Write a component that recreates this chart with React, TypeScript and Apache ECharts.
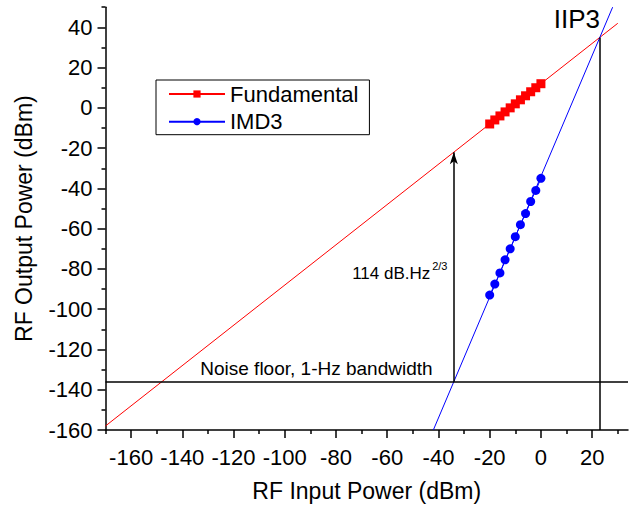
import React, { useEffect, useRef } from "react";
import * as echarts from "echarts";

// Measured points
const fundamentalX = [-20, -18, -16, -14, -12, -10, -8, -6, -4, -2, 0];
const fundamentalY = [-8, -6, -4, -2, 0, 2, 4, 6, 8, 10, 12];
const imd3X = [-20, -18, -16, -14, -12, -10, -8, -6, -4, -2, 0];
const imd3Y = [-93, -87.5, -82, -75.5, -70, -64, -58, -52.5, -46.5, -41, -35];

// Fitted lines (end points)
const fundamentalFitX = [-170, 30];
const fundamentalFitY = [-158, 42];
const imd3FitX = [-42, 28];
const imd3FitY = [-160, 50];

// Reference levels
const noiseFloor = -136;
const iip3 = [23, 35];
const sfdrX = -34;
const sfdrTop = -22;

// Axes
const xMin = -170;
const xMax = 34;
const yMin = -160;
const yMax = 50;
const xMajorTicks = [-160, -140, -120, -100, -80, -60, -40, -20, 0, 20];
const xMinorTicks = [-170, -150, -130, -110, -90, -70, -50, -30, -10, 10, 30];
const yMajorTicks = [-160, -140, -120, -100, -80, -60, -40, -20, 0, 20, 40];
const yMinorTicks = [-150, -130, -110, -90, -70, -50, -30, -10, 10, 30, 50];

const FONT = "Liberation Sans, Arial, sans-serif";

export default function App() {
  const ref = useRef<HTMLDivElement>(null);
  useEffect(() => {
    if (!ref.current) return;
    const chart = echarts.init(ref.current, null, { renderer: "svg" });
    const pairs = (xs: number[], ys: number[]) => xs.map((x, i) => [x, ys[i]]);
    const axisLine = { show: true, onZero: false, lineStyle: { color: "#000", width: 1.5 } };
    const hiddenLine = { show: false, onZero: false };
    chart.setOption({
      animation: false,
      backgroundColor: "#fff",
      grid: { left: 105.5, right: 4, top: 7.2, bottom: 78 },
      legend: {
        data: [{ name: "Fundamental" }, { name: "IMD3" }],
        orient: "vertical",
        left: 156,
        top: 80,
        padding: [3, 11, 2, 12],
        itemWidth: 56,
        itemHeight: 9,
        itemGap: 5.7,
        borderColor: "#000",
        borderWidth: 1,
        backgroundColor: "#fff",
        selectedMode: false,
        textStyle: { fontSize: 22, color: "#000", fontFamily: FONT },
      },
      xAxis: [
        {
          type: "value",
          position: "bottom",
          min: xMin,
          max: xMax,
          name: "RF Input Power (dBm)",
          nameLocation: "middle",
          nameGap: 49,
          nameTextStyle: { fontSize: 23, color: "#000", fontFamily: FONT },
          axisLine,
          axisTick: { show: true, length: 8, customValues: xMajorTicks, lineStyle: { color: "#000", width: 1.5 } },
          axisLabel: { customValues: xMajorTicks, fontSize: 22, color: "#000", fontFamily: FONT, margin: 16 },
          splitLine: { show: false },
        },
        {
          type: "value",
          position: "bottom",
          min: xMin,
          max: xMax,
          axisLine: hiddenLine,
          axisTick: { show: true, length: 4, customValues: xMinorTicks, lineStyle: { color: "#000", width: 1.5 } },
          axisLabel: { show: false },
          splitLine: { show: false },
        },
      ],
      yAxis: [
        {
          type: "value",
          position: "left",
          min: yMin,
          max: yMax,
          name: "RF Output Power (dBm)",
          nameLocation: "middle",
          nameGap: 70,
          nameTextStyle: { fontSize: 23, color: "#000", fontFamily: FONT },
          axisLine,
          axisTick: { show: true, length: 8, customValues: yMajorTicks, lineStyle: { color: "#000", width: 1.5 } },
          axisLabel: { customValues: yMajorTicks, fontSize: 22, color: "#000", fontFamily: FONT, margin: 13 },
          splitLine: { show: false },
        },
        {
          type: "value",
          position: "left",
          min: yMin,
          max: yMax,
          axisLine: hiddenLine,
          axisTick: { show: true, length: 4, customValues: yMinorTicks, lineStyle: { color: "#000", width: 1.5 } },
          axisLabel: { show: false },
          splitLine: { show: false },
        },
      ],
      series: [
        {
          name: "Fundamental fit",
          type: "line",
          data: pairs(fundamentalFitX, fundamentalFitY),
          showSymbol: false,
          lineStyle: { color: "#ff0000", width: 1 },
          itemStyle: { color: "#ff0000" },
          silent: true,
          z: 2,
          markLine: {
            silent: true,
            symbol: ["none", "none"],
            label: { show: false },
            lineStyle: { color: "#000", width: 1.5, type: "solid" },
            emphasis: { disabled: true },
            data: [
              [{ coord: [xMin, noiseFloor] }, { coord: [xMax, noiseFloor] }],
              [{ coord: [iip3[0], yMin] }, { coord: [iip3[0], iip3[1]] }],
              [
                { coord: [sfdrX, noiseFloor], symbol: "none" },
                { coord: [sfdrX, sfdrTop], symbol: "arrow", symbolSize: [6, 12] },
              ],
            ],
          },
        },
        {
          name: "IMD3 fit",
          type: "line",
          data: pairs(imd3FitX, imd3FitY),
          showSymbol: false,
          lineStyle: { color: "#0000ff", width: 1 },
          itemStyle: { color: "#0000ff" },
          silent: true,
          z: 2,
        },
        {
          name: "Fundamental",
          type: "line",
          data: pairs(fundamentalX, fundamentalY),
          symbol: "rect",
          symbolSize: 9,
          lineStyle: { color: "#ff0000", width: 1 },
          itemStyle: { color: "#ff0000" },
          z: 3,
        },
        {
          name: "IMD3",
          type: "line",
          data: pairs(imd3X, imd3Y),
          symbol: "circle",
          symbolSize: 9,
          lineStyle: { color: "#0000ff", width: 1 },
          itemStyle: { color: "#0000ff" },
          z: 3,
        },
      ],
    });

    const px = (x: number, y: number) => chart.convertToPixel({ gridIndex: 0 }, [x, y]) as number[];
    const nf = px(-133, noiseFloor);
    const sf = px(-73.7, -82.5);
    const ip = px(iip3[0], yMax);
    chart.setOption({
      graphic: [
        {
          type: "text",
          x: nf[0],
          y: nf[1] - 4,
          style: { text: "Noise floor, 1-Hz bandwidth", fontSize: 19, fontFamily: FONT, fill: "#000", textAlign: "left", textVerticalAlign: "bottom" },
        },
        {
          type: "text",
          x: sf[0],
          y: sf[1],
          style: { text: "114 dB.Hz", fontSize: 17, fontFamily: FONT, fill: "#000", textAlign: "left", textVerticalAlign: "middle" },
        },
        {
          type: "text",
          x: sf[0] + 80,
          y: sf[1] - 8,
          style: { text: "2/3", fontSize: 11, fontFamily: FONT, fill: "#000", textAlign: "left", textVerticalAlign: "middle" },
        },
        {
          type: "text",
          x: ip[0] - 46,
          y: ip[1] + 12,
          style: { text: "IIP3", fontSize: 26, fontFamily: FONT, fill: "#000", textAlign: "left", textVerticalAlign: "middle" },
        },
      ],
    });
    return () => chart.dispose();
  }, []);
  return <div ref={ref} style={{ position: "fixed", left: 0, top: 0, width: 632, height: 508 }} />;
}
